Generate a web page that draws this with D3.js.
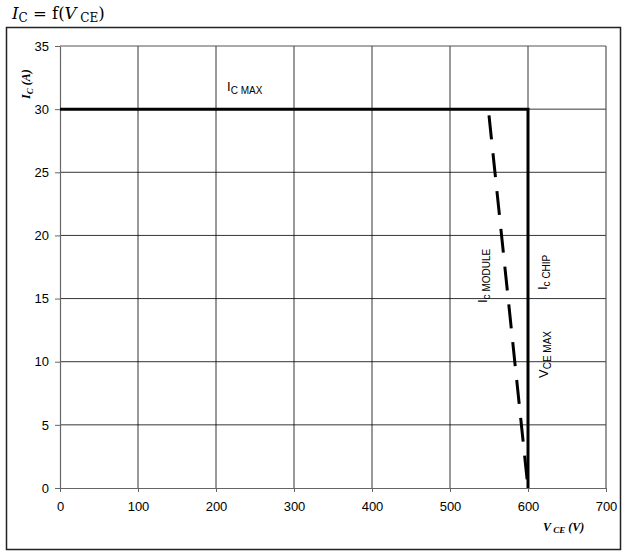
<!DOCTYPE html>
<html><head><meta charset="utf-8">
<script src="https://cdn.jsdelivr.net/npm/d3@7"></script>
<style>body{margin:0;background:#fff}</style>
</head><body>
<svg id="c" width="626" height="557"></svg>
<script>
const xTicks = [0,100,200,300,400,500,600,700];
const yTicks = [0,5,10,15,20,25,30,35];
const chipVce = [0,600,600];
const chipIc  = [30,30,0];
const moduleVce = [550,600];
const moduleIc  = [29.5,0];

const svg = d3.select("#c");
const x = d3.scaleLinear().domain([0,700]).range([60,606]);
const y = d3.scaleLinear().domain([0,35]).range([488,46]);

// outer frame
svg.append("rect").attr("x",6.5).attr("y",27.5).attr("width",614).attr("height",522)
  .attr("fill","none").attr("stroke","#222").attr("stroke-width",1.5);

// title
const t = svg.append("text").attr("x",12).attr("y",19).attr("font-family","DejaVu Serif").attr("font-size",16.5).attr("fill","#000");
t.append("tspan").attr("font-style","italic").text("I");
t.append("tspan").attr("font-size",12).attr("dy",3).text("C");
t.append("tspan").attr("dy",-3).text(" = f(");
t.append("tspan").attr("font-style","italic").text("V");
t.append("tspan").attr("font-size",12).attr("dy",3).text(" CE");
t.append("tspan").attr("dy",-3).text(")");

// grid
const g = svg.append("g");
g.selectAll(".vg").data(xTicks.slice(1,-1)).join("line")
  .attr("x1",d=>x(d)).attr("x2",d=>x(d)).attr("y1",y(35)).attr("y2",y(0))
  .attr("stroke","#000").attr("stroke-width",0.8);
g.selectAll(".hg").data(yTicks.slice(1,-1)).join("line")
  .attr("x1",x(0)).attr("x2",x(700)).attr("y1",d=>y(d)).attr("y2",d=>y(d))
  .attr("stroke","#000").attr("stroke-width",0.8);
// plot border
svg.append("line").attr("x1",x(0)).attr("x2",x(700)).attr("y1",y(35)).attr("y2",y(35)).attr("stroke","#555").attr("stroke-width",1.2);
svg.append("line").attr("x1",x(700)).attr("x2",x(700)).attr("y1",y(35)).attr("y2",y(0)).attr("stroke","#555").attr("stroke-width",1.2);

// axes
const xa = svg.append("g").attr("transform",`translate(0,${y(0)})`)
  .call(d3.axisBottom(x).tickValues(xTicks).tickSize(4).tickPadding(10).tickSizeOuter(0));
const ya = svg.append("g").attr("transform",`translate(${x(0)},0)`)
  .call(d3.axisLeft(y).tickValues(yTicks).tickSize(5).tickPadding(6).tickSizeOuter(0));
[xa,ya].forEach(a=>{
  a.select(".domain").attr("stroke","#666").attr("stroke-width",1.2);
  a.selectAll(".tick line").attr("stroke","#666");
  a.selectAll("text").attr("font-family","Liberation Sans, Arial").attr("font-size",13).attr("fill","#000");
});

// lines
const line = d3.line().x(d=>x(d[0])).y(d=>y(d[1]));
svg.append("path").datum(chipVce.map((v,i)=>[v,chipIc[i]]))
  .attr("d",line).attr("fill","none").attr("stroke","#000").attr("stroke-width",3);
svg.append("path").datum(moduleVce.map((v,i)=>[v,moduleIc[i]]))
  .attr("d",line).attr("fill","none").attr("stroke","#000").attr("stroke-width",3)
  .attr("stroke-dasharray","24,14");

// labels
function sublabel(xp,yp,main,sub,rot){
  const tx = svg.append("text").attr("font-family","Liberation Sans, Arial").attr("font-size",13).attr("fill","#000")
    .attr("transform",`translate(${xp},${yp}) rotate(${rot})`);
  tx.append("tspan").text(main);
  tx.append("tspan").attr("font-size",10).attr("dy",3).text(sub);
}
sublabel(227,91,"I","C MAX",0);
sublabel(487,303,"I","c MODULE",-90);
sublabel(547,290,"I","c CHIP",-90);
sublabel(548,378,"V","CE MAX",-90);

// axis titles
const yl = svg.append("text").attr("transform",`translate(30,99) rotate(-90)`)
  .attr("font-family","Liberation Serif").attr("font-weight","bold").attr("font-style","italic").attr("font-size",12);
yl.append("tspan").text("I");
yl.append("tspan").attr("font-size",9).attr("dy",3).text("C");
yl.append("tspan").attr("dy",-3).text(" (A)");
const xl = svg.append("text").attr("x",543).attr("y",531)
  .attr("font-family","Liberation Serif").attr("font-weight","bold").attr("font-style","italic").attr("font-size",12);
xl.append("tspan").text("V");
xl.append("tspan").attr("font-size",9).attr("dy",2).text(" CE");
xl.append("tspan").attr("dy",-2).text(" (V)");
</script>
</body></html>
